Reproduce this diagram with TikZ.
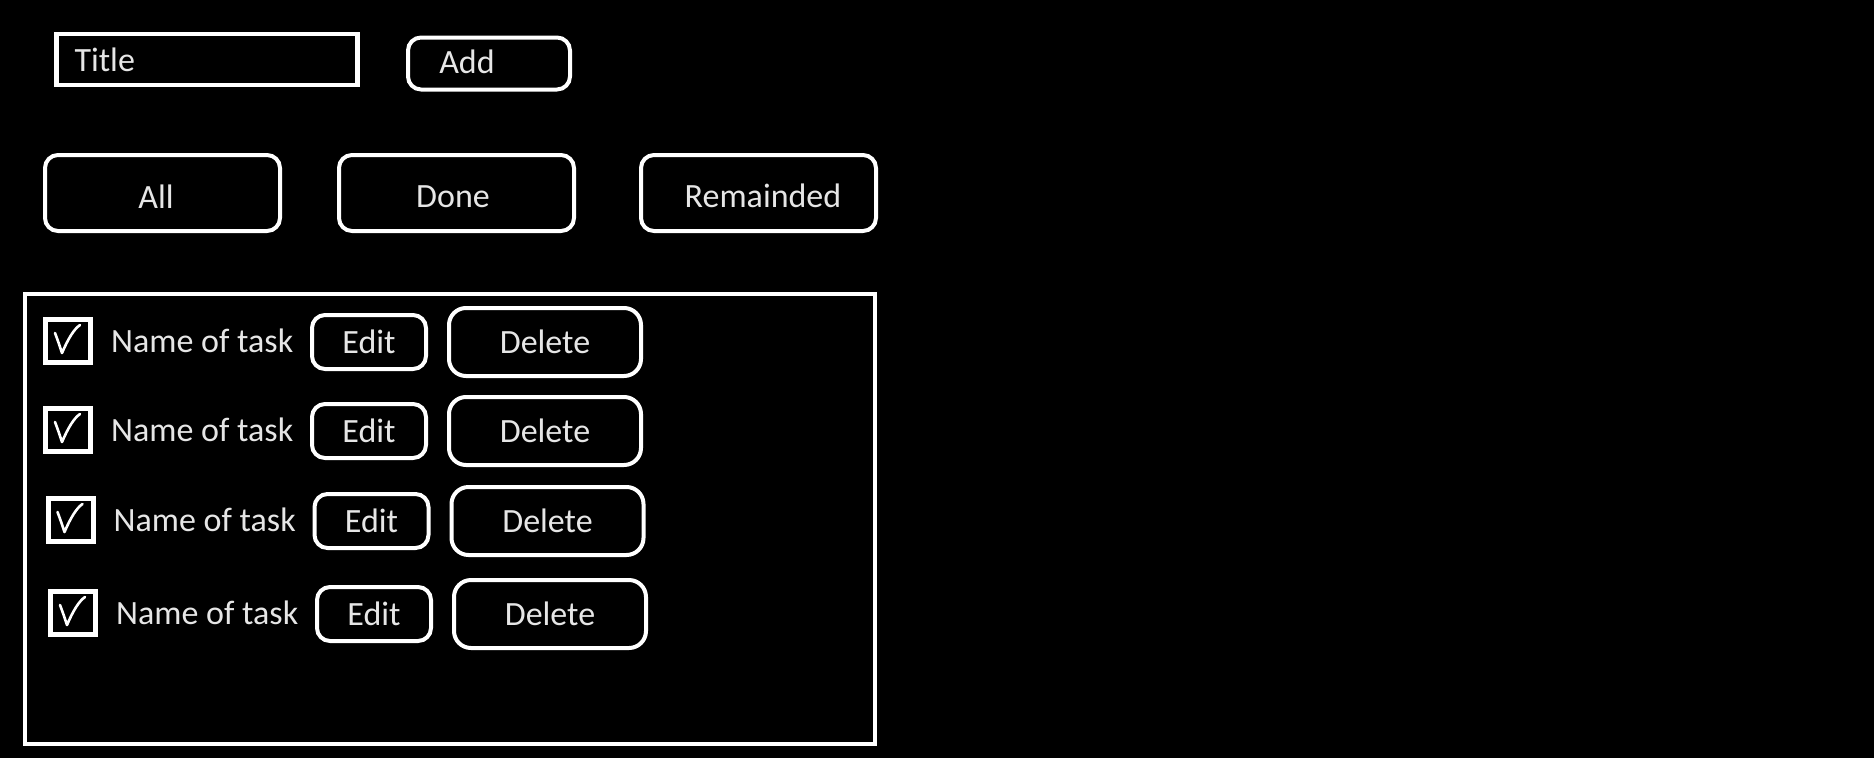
\documentclass[tikz,border=0pt]{standalone}
\usepackage{fontspec}
\setmainfont{Carlito}
\usepackage{tikz}
\usetikzlibrary{positioning}
\usepackage{xcolor}
\definecolor{ink}{HTML}{E6E6E6}

\begin{document}
\begin{tikzpicture}[
  x=1pt, y=-1pt,
  field/.style={rectangle, draw=white, line width=4.5pt, text=ink,
                minimum width=301pt, minimum height=51pt, inner xsep=18pt,
                text width=265pt, align=left, font=\fontsize{34}{40}\selectfont},
  btn/.style={rectangle, rounded corners=13pt, draw=white, line width=4pt,
              text=ink, font=\fontsize{34}{40}\selectfont},
  filter/.style={btn, minimum width=235pt, minimum height=76pt},
  panel/.style={rectangle, draw=white, line width=4.5pt,
                minimum width=850pt, minimum height=450pt},
  chkbox/.style={rectangle, draw=white, line width=5pt,
                 minimum width=45pt, minimum height=43pt},
  chkmark/.style={draw=white, line width=2.6pt, line cap=round, line join=round},
  lbl/.style={anchor=west, inner sep=0pt, text=ink,
              font=\fontsize{34}{40}\selectfont},
  txt/.style={inner sep=0pt, text=ink, font=\fontsize{34}{40}\selectfont},
]

  %% Canvas
  \fill[black] (0,0) rectangle (1874,758);
  \useasboundingbox (0,0) rectangle (1874,758);

  %% Row 1: title field + add button
  \node[field] (title) at (207,59.5) {\raisebox{-2pt}{Title}};
  \node[btn, minimum width=162pt, minimum height=52pt] (add) at (489,63.5) {};
  \node[txt] (addtxt) at (467,62) {Add};

  %% Row 2: filters
  \node[filter] (all)  at (162.5,193) {};
  \node[filter] (done) at (456.5,193) {};
  \node[filter] (rem)  at (758.5,193) {};
  \node[txt] (alltxt)  at (156,196.5) {All};
  \node[txt] (donetxt) at (453,196.5) {Done};
  \node[txt] (remtxt)  at (763,196) {Remainded};

  %% Task list
  \node[panel] (list) at (450,519) {};

  \foreach \i/\dx/\y in {1/0/341, 2/0/430, 3/2.5/520, 4/5/613} {
    \node[chkbox] (chk\i) at (68+\dx,\y) {};
    \begin{scope}[shift={(chk\i.center)}]
      \draw[chkmark] (-13,-8) .. controls (-10,0) .. (-6,12)
                     .. controls (0,-2) and (6,-12) .. (12,-16);
    \end{scope}
    \node[lbl] (task\i) at (111+\dx,\y) {Name of task};
    \node[btn, minimum width=114pt, minimum height=54pt] (edit\i) at (369+\dx,\y+1) {Edit};
    \node[btn, rounded corners=17pt, minimum width=192pt, minimum height=68pt]
          (del\i) at (545+\dx,\y+1) {Delete};
  }

\end{tikzpicture}
\end{document}
